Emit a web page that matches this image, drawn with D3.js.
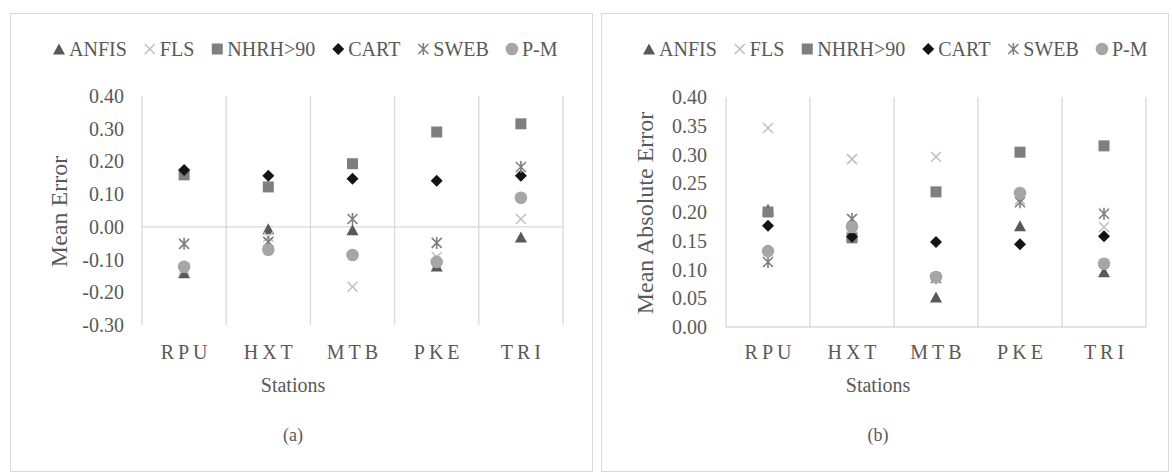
<!DOCTYPE html>
<html><head><meta charset="utf-8">
<script src="https://cdn.jsdelivr.net/npm/d3@7"></script>
<style>
body{margin:0;background:#fff}
svg text{font-family:"Liberation Serif","Times New Roman",Times,serif;fill:#595959}
</style>
</head><body>
<svg id="c" width="1172" height="472"></svg>
<script>
// ---------- data ----------
const stations = ["RPU", "HXT", "MTB", "PKE", "TRI"];
const seriesNames = ["ANFIS", "FLS", "NHRH>90", "CART", "SWEB", "P-M"];

// (a) Mean Error
const anfisME = [-0.140, -0.006, -0.009, -0.120, -0.031];
const flsME   = [-0.130, -0.030, -0.183, -0.092, 0.024];
const nhrhME  = [0.159, 0.122, 0.193, 0.290, 0.315];
const cartME  = [0.174, 0.156, 0.147, 0.141, 0.156];
const swebME  = [-0.052, -0.046, 0.024, -0.049, 0.183];
const pmME    = [-0.122, -0.070, -0.086, -0.107, 0.089];

// (b) Mean Absolute Error
const anfisMAE = [0.205, 0.160, 0.052, 0.176, 0.096];
const flsMAE   = [0.346, 0.292, 0.296, 0.222, 0.174];
const nhrhMAE  = [0.200, 0.155, 0.235, 0.304, 0.315];
const cartMAE  = [0.176, 0.157, 0.148, 0.144, 0.158];
const swebMAE  = [0.113, 0.188, 0.085, 0.217, 0.197];
const pmMAE    = [0.132, 0.174, 0.087, 0.233, 0.110];

const meTicks = [-0.3, -0.2, -0.1, 0, 0.1, 0.2, 0.3, 0.4];
const meTickLabels = ["-0.30", "-0.20", "-0.10", "0.00", "0.10", "0.20", "0.30", "0.40"];
const maeTicks = [0, 0.05, 0.1, 0.15, 0.2, 0.25, 0.3, 0.35, 0.4];
const maeTickLabels = ["0.00", "0.05", "0.10", "0.15", "0.20", "0.25", "0.30", "0.35", "0.40"];

// ---------- styling ----------
const FONT = "'Liberation Serif', 'Times New Roman', Times, serif";
const colors = ["#595959", "#bfbfbf", "#7f7f7f", "#141414", "#7f7f7f", "#a6a6a6"];
const shapes = ["triangle", "x", "square", "diamond", "star", "circle"];
const grid = "#d9d9d9";

const svg = d3.select("#c");

function txt(g) {
  return g.append("text").style("font-family", FONT).attr("fill", "#595959");
}

function drawMarker(g, shape, color) {
  if (shape === "triangle") g.append("path").attr("d", "M0,-5.5L6,5.5L-6,5.5Z").attr("fill", color);
  else if (shape === "square") g.append("rect").attr("x", -5.5).attr("y", -5.5).attr("width", 11).attr("height", 11).attr("fill", color);
  else if (shape === "diamond") g.append("path").attr("d", "M0,-6L6,0L0,6L-6,0Z").attr("fill", color);
  else if (shape === "circle") g.append("circle").attr("r", 6.3).attr("fill", color);
  else if (shape === "x") g.append("path").attr("d", "M-5,-5L5,5M5,-5L-5,5").attr("stroke", color).attr("stroke-width", 1.5).attr("fill", "none");
  else if (shape === "star") g.append("path").attr("d", "M-5,-5L5,5M5,-5L-5,5M0,-6L0,6").attr("stroke", color).attr("stroke-width", 1.6).attr("fill", "none");
}

const panels = [
  { box: [10.5, 13.5, 582, 458], xr: [142, 563], yr: [325, 96], dom: [-0.3, 0.4],
    ticks: meTicks, labels: meTickLabels, tickX: 124, legendX: 53,
    ylabel: "Mean Error", ylabelX: 67, statX: 293, caption: "(a)",
    series: [anfisME, flsME, nhrhME, cartME, swebME, pmME] },
  { box: [601.5, 13.5, 567, 458], xr: [726, 1146], yr: [327, 97], dom: [0, 0.4],
    ticks: maeTicks, labels: maeTickLabels, tickX: 707, legendX: 643,
    ylabel: "Mean Absolute Error", ylabelX: 653, statX: 878, caption: "(b)",
    series: [anfisMAE, flsMAE, nhrhMAE, cartMAE, swebMAE, pmMAE] }
];

panels.forEach(p => {
  const g = svg.append("g");
  g.append("rect").attr("x", p.box[0]).attr("y", p.box[1]).attr("width", p.box[2]).attr("height", p.box[3])
    .attr("fill", "#fff").attr("stroke", grid).attr("stroke-width", 1);

  const x = d3.scaleBand().domain(stations).range(p.xr).padding(0);
  const y = d3.scaleLinear().domain(p.dom).range(p.yr);

  // category gridlines
  const bounds = stations.map(s => x(s)).concat([x(stations[stations.length - 1]) + x.bandwidth()]);
  g.selectAll(".vg").data(bounds).join("line")
    .attr("x1", d => d).attr("x2", d => d).attr("y1", y(p.dom[1])).attr("y2", y(p.dom[0]))
    .attr("stroke", grid).attr("stroke-width", 1.3);
  // zero line
  g.append("line").attr("x1", p.xr[0]).attr("x2", p.xr[1]).attr("y1", y(0)).attr("y2", y(0))
    .attr("stroke", grid).attr("stroke-width", 1.3);

  // y tick labels
  p.ticks.forEach((d, i) => {
    txt(g).attr("x", p.tickX).attr("y", y(d)).attr("dy", "0.35em")
      .attr("text-anchor", "end").attr("font-size", 20).text(p.labels[i]);
  });

  // x category labels
  stations.forEach(s => {
    txt(g).attr("x", x(s) + x.bandwidth() / 2 + 2).attr("y", 352).attr("dy", "0.35em")
      .attr("text-anchor", "middle").attr("font-size", 20).attr("letter-spacing", "4px").text(s);
  });

  // axis titles
  txt(g).attr("transform", `translate(${p.ylabelX},${(p.yr[0] + p.yr[1]) / 2 + 1}) rotate(-90)`)
    .attr("text-anchor", "middle").attr("font-size", 24).text(p.ylabel);
  txt(g).attr("x", p.statX).attr("y", 385).attr("dy", "0.35em")
    .attr("text-anchor", "middle").attr("font-size", 20).text("Stations");
  txt(g).attr("x", p.statX).attr("y", 435).attr("dy", "0.35em")
    .attr("text-anchor", "middle").attr("font-size", 18).text(p.caption);

  // points (drawn in series order, later on top)
  p.series.forEach((vals, si) => {
    vals.forEach((v, ci) => {
      const m = g.append("g").attr("transform", `translate(${x(stations[ci]) + x.bandwidth() / 2},${y(v)})`);
      drawMarker(m, shapes[si], colors[si]);
    });
  });

  // legend
  let lx = p.legendX;
  const ly = 49;
  seriesNames.forEach((name, si) => {
    const m = g.append("g").attr("transform", `translate(${lx + 6},${ly})`);
    drawMarker(m, shapes[si], colors[si]);
    const t = txt(g).attr("x", lx + 16).attr("y", ly).attr("dy", "0.35em")
      .attr("font-size", 20).text(name);
    lx = lx + 16 + t.node().getComputedTextLength() + 17;
  });
});
</script>
</body></html>
